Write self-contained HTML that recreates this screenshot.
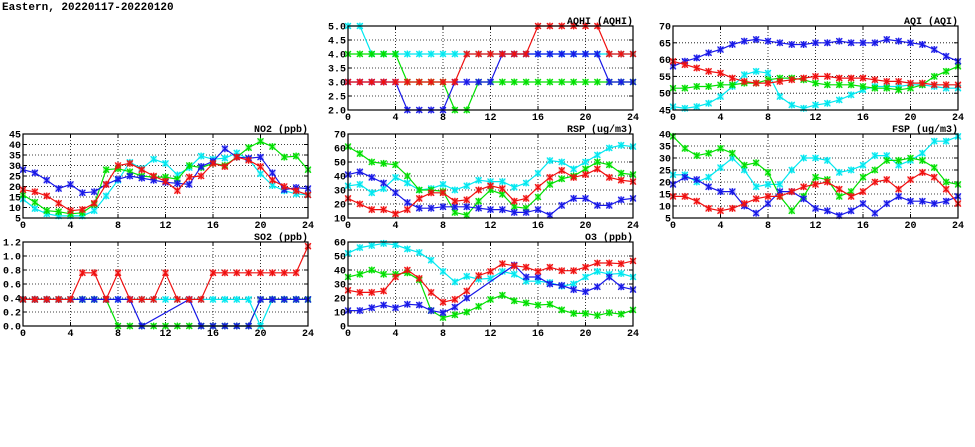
<!DOCTYPE html>
<html><head><meta charset="utf-8"><style>
html,body{margin:0;padding:0;background:#fff;width:975px;height:447px;overflow:hidden}
svg text{font-family:"Liberation Mono",monospace;font-weight:bold;font-size:10px;fill:#000}
</style></head><body>
<svg id="s" width="975" height="447" xmlns="http://www.w3.org/2000/svg">
<text x="2" y="10" style="font-size:11px">Eastern, 20220117-20220120</text>
</svg>
<script>
const N=null;
const panels=[
{x:348,y:26,t:"AQHI (AQHI)",min:2,max:5,step:0.5,dec:1,d:{
c:[5,5,4,4,4,4,4,4,4,4,4,4,4,4,4,4,4,4,4,4,4,4,4,4,4],
g:[4,4,4,4,4,3,3,3,3,2,2,3,3,3,3,3,3,3,3,3,3,3,3,3,3],
b:[3,3,3,3,3,2,2,2,2,3,3,3,3,4,4,4,4,4,4,4,4,4,3,3,3],
r:[3,3,3,3,3,3,3,3,3,3,4,4,4,4,4,4,5,5,5,5,5,5,4,4,4]}},
{x:673,y:26,t:"AQI (AQI)",min:45,max:70,step:5,dec:0,d:{
c:[46,45.5,46,47,49,52,55.5,56.5,56,49,46.5,45.5,46.5,47,48,49.5,51,52,52,52,52.5,52.5,52,51.5,51.5],
g:[51.5,51.5,52,52,52.5,52.5,53,53,54,54.5,54.5,54,53,52.5,52.5,52.5,52,51.5,51.5,51,51.5,52.5,55,56.5,58],
b:[58,59.5,60.5,62,63,64.5,65.5,66,65.5,65,64.5,64.5,65,65,65.5,65,65,65,66,65.5,65,64.5,63,61,59.5],
r:[59.5,58.5,57.5,56.5,56,54.5,53.5,53,53,53.5,54,54.5,55,55,54.5,54.5,54.5,54,53.5,53.5,53,53,52.5,52.5,52.5]}},
{x:23,y:134,t:"NO2 (ppb)",min:5,max:45,step:5,dec:0,d:{
c:[14,9.5,7,6,6,6,8.5,15.5,23,31.5,28.5,33,31,25.5,29,34.5,33,33.5,36,33,26,20.5,18,16.5,16],
g:[16,12.5,8.5,8,7,7.5,11.5,28,28.5,27,25,24.5,24.5,23.5,30,29,31,30,34,38.5,41.5,39,34,34.5,28],
b:[28,26.5,23,19,21,17,17.5,21,23.5,25,24,23,22,21.5,21,29.5,32,38,34,33.5,34,26.5,18.5,19.5,19],
r:[18.5,17.5,15.5,12,8.5,9,12,21,30,31,28,25,22.5,18,24.5,25,31,29.5,34,32.5,29.5,23,20,18,16]}},
{x:348,y:134,t:"RSP (ug/m3)",min:10,max:70,step:10,dec:0,d:{
c:[33,34,28,31,39,35,30,31,34,30,33,37,36,36,32,35,42,51,50,45,50,55,60,62,61],
g:[61,56,50,49,48,40,30,30,29,14,12,22,30,27,18,17,25,34,38,40,45,50,48,42,41],
b:[41,43,39,35,28,21,17,17,18,18,18,17,16,16,14,14,16,12,19,24,24,19,19,23,24],
r:[24,20,16,16,13,16,24,28,28,22,23,30,33,31,22,24,32,39,44,39,41,45,39,37,36]}},
{x:673,y:134,t:"FSP (ug/m3)",min:5,max:40,step:5,dec:0,d:{
c:[23,23,20,22,26,30,25,18,19,19,25,30,30,29,24,25,27,31,31,27,29,32,37,37,39],
g:[39,34,31,32,34,32,27,28,24,14,8,14,22,21,14,16,22,25,29,29,30,29,26,20,19],
b:[19,22,21,18,16,16,10,7,11,16,16,13,9,8,6,8,11,7,11,14,12,12,11,12,14],
r:[14,14,12,9,8,9,11,13,14,14,16,18,19,20,17,14,16,20,21,17,21,24,22,17,11]}},
{x:23,y:242,t:"SO2 (ppb)",min:0,max:1.2,step:0.2,dec:1,d:{
c:[.38,.38,.38,.38,.38,.38,.38,.38,.38,.38,.38,.38,.38,.38,.38,.38,.38,.38,.38,.38,0,.38,.38,.38,.38],
g:[.38,.38,.38,.38,.38,.38,.38,.38,0,0,0,0,0,0,0,0,0,0,0,0,.38,.38,.38,.38,.38],
b:[.38,.38,.38,.38,.38,.38,.38,.38,.38,.38,0,N,N,N,.38,0,0,0,0,0,.38,.38,.38,.38,.38],
r:[.38,.38,.38,.38,.38,.76,.76,.38,.76,.38,.38,.38,.76,.38,.38,.38,.76,.76,.76,.76,.76,.76,.76,.76,1.14]}},
{x:348,y:242,t:"O3 (ppb)",min:0,max:60,step:10,dec:0,d:{
c:[52,56,57.5,59,58,55,52.5,47,39,31.5,35.5,33.5,34,39,37,32,32,31,28.5,30,35,39,37,37.5,35],
g:[35,37,40,37,37,38,33,11,6,8,10,14,19,22,18,16.5,15,15.5,11.5,9,9,7.5,9.5,8.5,11.5],
b:[11,11,13,15,13,15.5,15,11,9.5,13.5,20,N,N,N,43.5,35,35,30,29,26,24.5,28,35,28,26],
r:[25.5,24,24,25,35,40,34,24,17,19,25,36,39,44.5,43,42,39,42,39.5,39.5,42,45,45,44.5,46.5]}}
];
const W=285,H=84,col={c:"#00e8f0",g:"#00e000",b:"#1818e8",r:"#f01010"};
let h="";
for(const p of panels){
 const X=i=>p.x+i*W/24, Y=v=>p.y+H-(v-p.min)/(p.max-p.min)*H;
 const n=Math.round((p.max-p.min)/p.step);
 for(let k=0;k<=n;k++){const v=p.min+k*p.step,y=Y(v);
  if(k>0&&k<n)h+=`<line x1="${p.x}" x2="${p.x+W}" y1="${y}" y2="${y}" stroke="#000" stroke-width="0.8" stroke-dasharray="1,2"/>`;
  h+=`<line x1="${p.x}" x2="${p.x+4}" y1="${y}" y2="${y}" stroke="#000"/><line x1="${p.x+W-4}" x2="${p.x+W}" y1="${y}" y2="${y}" stroke="#000"/>`;
  h+=`<text x="${p.x-2}" y="${y+3.5}" text-anchor="end">${v.toFixed(p.dec)}</text>`;}
 for(let i=0;i<=24;i+=4){const x=X(i);
  if(i>0&&i<24)h+=`<line x1="${x}" x2="${x}" y1="${p.y}" y2="${p.y+H}" stroke="#000" stroke-width="0.8" stroke-dasharray="1,2"/>`;
  h+=`<line x1="${x}" x2="${x}" y1="${p.y+H-4}" y2="${p.y+H}" stroke="#000"/><line x1="${x}" x2="${x}" y1="${p.y}" y2="${p.y+4}" stroke="#000"/>`;
  h+=`<text x="${x}" y="${p.y+H+10}" text-anchor="middle">${i}</text>`;}
 for(const k of ["c","g","b","r"]){const a=p.d[k];let pts=[];
  for(let i=0;i<25;i++)if(a[i]!==N)pts.push(X(i).toFixed(1)+","+Y(a[i]).toFixed(1));
  h+=`<polyline points="${pts.join(" ")}" fill="none" stroke="${col[k]}" stroke-width="1.2"/>`;
  for(let i=0;i<25;i++)if(a[i]!==N){const x=X(i),y=Y(a[i]);
   h+=`<rect x="${x-3}" y="${y-3}" width="6" height="6" fill="${col[k]}" opacity="0.35"/><path d="M${x-3} ${y-3}L${x+3} ${y+3}M${x+3} ${y-3}L${x-3} ${y+3}M${x} ${y-3.5}V${y+3.5}" stroke="${col[k]}" stroke-width="1.2"/>`;}
 }
 h+=`<rect x="${p.x}" y="${p.y}" width="${W}" height="${H}" fill="none" stroke="#000" stroke-width="1.2"/>`;
 h+=`<text x="${p.x+W}" y="${p.y-2}" text-anchor="end">${p.t}</text>`;
}
document.getElementById("s").insertAdjacentHTML("beforeend",h);
</script>
</body></html>
